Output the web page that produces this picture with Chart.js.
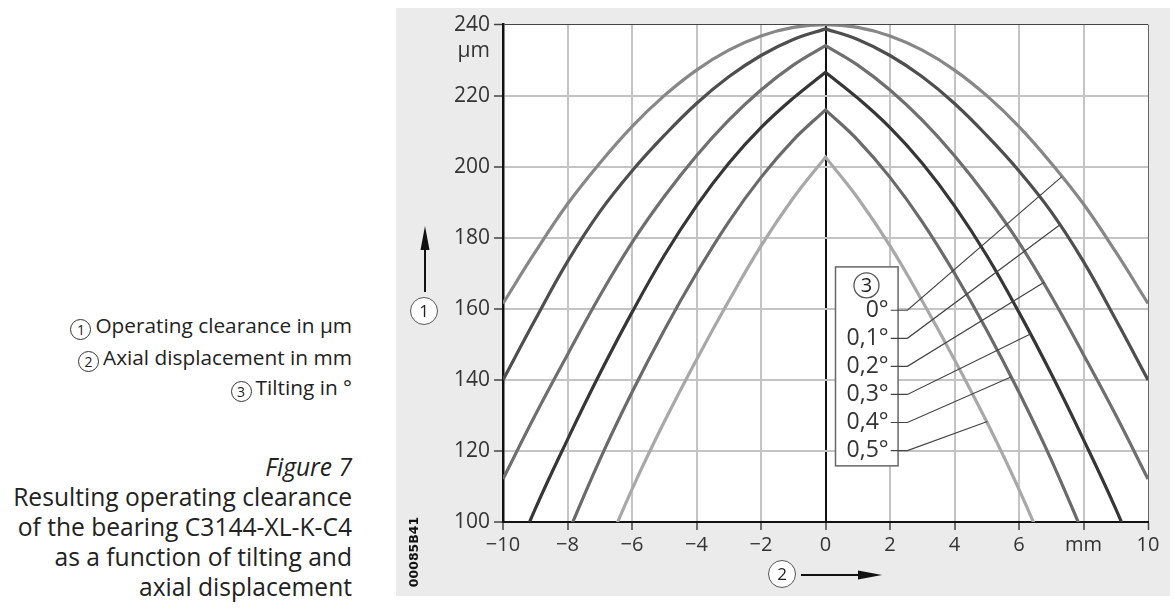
<!DOCTYPE html>
<html>
<head>
<meta charset="utf-8">
<script src="https://cdn.jsdelivr.net/npm/chart.js@4.4.1/dist/chart.umd.min.js"></script>
<style>
body { margin:0; width:1174px; height:608px; background:#fff; position:relative; overflow:hidden; font-family:"Open Sans", sans-serif; color:#222; }
#painel { position:absolute; left:396px; top:8px; width:774px; height:588px; background:#ebebeb; }
#grafico { position:absolute; left:396px; top:8px; }
.nota { position:absolute; right:822px; white-space:nowrap; text-align:right; font-size:20.8px; line-height:26px; }
.nota .num { display:inline-block; width:19px; height:19px; border:1.3px solid #333; border-radius:50%; font-size:14px; line-height:19px;
  text-align:center; vertical-align:-2px; margin-right:4px; }
.titulo { position:absolute; right:822px; white-space:nowrap; text-align:right; font-size:24.6px; line-height:30px; }
.circulo { position:absolute; width:26px; height:26px; border:1.5px solid #555; border-radius:50%; background:#fff;
  font-size:17px; line-height:26px; text-align:center; color:#222; }
.codigo { position:absolute; left:413px; top:552px; transform:translate(-50%,-50%) rotate(-90deg); font-family:"DejaVu Sans", sans-serif; font-size:12.5px; font-weight:bold; color:#111; white-space:nowrap; }
svg { position:absolute; left:0; top:0; }
</style>
</head>
<body>
<div id="painel"></div>
<canvas id="grafico" width="774" height="588"></canvas>

<div class="nota" style="top:312px"><span class="num">1</span>Operating clearance in &micro;m</div>
<div class="nota" style="top:344px"><span class="num">2</span>Axial displacement in mm</div>
<div class="nota" style="top:374px"><span class="num">3</span>Tilting in &deg;</div>

<div class="titulo" style="top:452px"><i>Figure 7</i></div>
<div class="titulo" style="top:482px">Resulting operating clearance</div>
<div class="titulo" style="top:512px">of the bearing C3144-XL-K-C4</div>
<div class="titulo" style="top:542px">as a function of tilting and</div>
<div class="titulo" style="top:572px">axial displacement</div>

<div class="circulo" style="left:410px; top:297px">1</div>
<div class="circulo" style="left:768px; top:560px">2</div>
<div class="codigo">00085B41</div>

<svg width="1174" height="608">
  <line x1="425" y1="292" x2="425" y2="240" stroke="#111" stroke-width="2"/>
  <polygon points="425,226 420.5,250 429.5,250" fill="#111"/>
  <line x1="801" y1="575" x2="862" y2="575" stroke="#111" stroke-width="2"/>
  <polygon points="882,575 858,570.5 858,579.5" fill="#111"/>
</svg>

<script>
// deslocamento axial em mm (eixo x)
const deslocamento = [-10, -9, -8, -7, -6, -5, -4, -3, -2, -1, 0, 1, 2, 3, 4, 5, 6, 7, 8, 9, 10];

// folga operacional em µm, uma lista por inclinação
const folga0 = [161.5, 176, 189.5, 201, 211.3, 220, 227.2, 232.8, 236.8, 239.2, 240, 239.2, 236.8, 232.8, 227.2, 220, 211.3, 201, 189.5, 176, 161.5];
const folga01 = [140, 157, 173.3, 187.3, 198.8, 208.8, 217.8, 225.3, 231.3, 235.8, 238.8, 235.8, 231.3, 225.3, 217.8, 208.8, 198.8, 187.3, 173.3, 157, 140];
const folga02 = [112.1, 130.1, 147.1, 163.6, 178.6, 191.6, 203.1, 213.1, 221.6, 228.6, 234.1, 228.6, 221.6, 213.1, 203.1, 191.6, 178.6, 163.6, 147.1, 130.1, 112.1];
const folga03 = [82, 103.7, 123.2, 141.7, 159, 175, 189, 201, 211, 219.3, 226.6, 219.3, 211, 201, 189, 175, 159, 141.7, 123.2, 103.7, 82];
const folga04 = [null, null, 96.5, 117.5, 136.5, 154, 170, 184.5, 197, 207.5, 216, 207.5, 197, 184.5, 170, 154, 136.5, 117.5, 96.5, null, null];
const folga05 = [null, null, null, 88.2, 109.2, 128.2, 145.7, 162.2, 177.7, 191.2, 202.7, 191.2, 177.7, 162.2, 145.7, 128.2, 109.2, 88.2, null, null, null];

const inclinacoes = ['0°', '0,1°', '0,2°', '0,3°', '0,4°', '0,5°'];
const cores = ['#878787', '#4e4e4e', '#6f6f6f', '#363636', '#6a6a6a', '#a8a8a8'];

// ticks do eixo y
const ticksY = [100, 120, 140, 160, 180, 200, 220, 240];

// onde as linhas da legenda encostam nas curvas (mm, µm)
const fimLinhaX = [7.33, 7.25, 6.78, 6.37, 5.75, 5.02];
const fimLinhaY = [197.2, 183.5, 167.5, 153, 140.8, 128.3];

function montarPontos(valores, pontaAguda) {
    let pontos = [];
    deslocamento.forEach((x, i) => {
        if (valores[i] !== null) pontos.push({ x: x, y: valores[i] });
    });
    // repete o pico para a curva ficar com a ponta aguda em 0 mm
    if (pontaAguda) {
        let k = pontos.findIndex(p => p.x === 0);
        pontos.splice(k, 0, { x: 0, y: pontos[k].y });
    }
    return pontos;
}

const series = [folga0, folga01, folga02, folga03, folga04, folga05];
const datasets = series.map((valores, i) => ({
    label: inclinacoes[i],
    data: montarPontos(valores, i > 0),
    borderColor: cores[i],
    borderWidth: 3.2,
    pointRadius: 0,
    tension: 0.4,
    fill: false
}));

const fonte = 'Open Sans';

// fundo branco da área do gráfico + legenda com as linhas
const legendaPlugin = {
    id: 'legenda',
    beforeDraw(chart) {
        const a = chart.chartArea;
        chart.ctx.save();
        chart.ctx.fillStyle = '#fff';
        chart.ctx.fillRect(a.left, a.top, a.right - a.left, a.bottom - a.top);
        chart.ctx.restore();
    },
    afterDatasetsDraw(chart) {
        const ctx = chart.ctx;
        const x = chart.scales.x;
        const y = chart.scales.y;
        ctx.save();

        // unidade do eixo y
        ctx.fillStyle = '#333';
        ctx.font = '21px "' + fonte + '"';
        ctx.textAlign = 'right';
        ctx.textBaseline = 'middle';
        ctx.fillText('\u00b5m', x.left - 13, y.getPixelForValue(232.6));

        // caixa
        const bx1 = x.getPixelForValue(0.31), bx2 = x.getPixelForValue(2.25);
        const by1 = y.getPixelForValue(171.8), by2 = y.getPixelForValue(115.8);
        ctx.fillStyle = '#fff';
        ctx.fillRect(bx1, by1, bx2 - bx1, by2 - by1);
        ctx.strokeStyle = '#666';
        ctx.lineWidth = 1.5;
        ctx.strokeRect(bx1, by1, bx2 - bx1, by2 - by1);

        // circulo 3
        const cx = x.getPixelForValue(1.27), cy = y.getPixelForValue(166.6);
        ctx.beginPath();
        ctx.arc(cx, cy, 12.5, 0, Math.PI * 2);
        ctx.lineWidth = 1.3;
        ctx.strokeStyle = '#555';
        ctx.stroke();
        ctx.fillStyle = '#222';
        ctx.textAlign = 'center';
        ctx.font = '20px "' + fonte + '"';
        ctx.fillText('3', cx, cy + 1);

        // textos e linhas
        ctx.font = '23px "' + fonte + '"';
        ctx.textAlign = 'right';
        inclinacoes.forEach((txt, i) => {
            const ly = y.getPixelForValue(159.6 - i * 7.9);
            const tx = x.getPixelForValue(1.96);
            ctx.fillStyle = '#333';
            ctx.fillText(txt, tx, ly);
            ctx.beginPath();
            ctx.moveTo(tx + 2, ly);
            ctx.lineTo(x.getPixelForValue(2.54), ly);
            ctx.lineTo(x.getPixelForValue(fimLinhaX[i]), y.getPixelForValue(fimLinhaY[i]));
            ctx.strokeStyle = '#444';
            ctx.lineWidth = 1.2;
            ctx.stroke();
        });
        ctx.restore();
    }
};

var ctx = document.getElementById('grafico').getContext('2d');
var chart = new Chart(ctx, {
    type: 'line',
    data: { datasets: datasets },
    options: {
        responsive: false,
        animation: false,
        devicePixelRatio: 1,
        layout: { padding: { top: 16, right: 22, left: 0, bottom: 0 } },
        plugins: { legend: { display: false }, tooltip: { enabled: false } },
        scales: {
            x: {
                type: 'linear',
                min: -10,
                max: 10,
                ticks: {
                    stepSize: 2,
                    autoSkip: false,
                    maxRotation: 0,
                    padding: 3,
                    color: '#333',
                    font: { family: fonte, size: 20 },
                    callback: v => v === 8 ? 'mm' : (v < 0 ? '\u2212' + Math.abs(v) : String(v))
                },
                grid: {
                    color: c => c.tick.value === 0 ? '#111' : (c.tick.value === 10 ? '#666' : '#c4c4c4'),
                    lineWidth: c => c.tick.value === 10 ? 1 : 2,
                    tickColor: '#444',
                    tickLength: 8,
                    tickWidth: 1.5
                },
                border: { color: '#111', width: 2 },
                afterFit: s => { s.height = 74; }
            },
            y: {
                min: 100,
                max: 240,
                afterBuildTicks: s => { s.ticks = ticksY.map(v => ({ value: v })); },
                ticks: {
                    padding: 4,
                    color: '#333',
                    font: { family: fonte, size: 21 }
                },
                grid: {
                    color: c => c.tick.value === 240 ? '#444' : '#c4c4c4',
                    lineWidth: c => c.tick.value === 240 ? 1 : 2,
                    tickColor: '#444',
                    tickLength: 9,
                    tickWidth: 1.5
                },
                border: { color: '#111', width: 2.5 },
                afterFit: s => { s.width = 107; }
            }
        }
    },
    plugins: [legendaPlugin]
});
</script>
</body>
</html>
